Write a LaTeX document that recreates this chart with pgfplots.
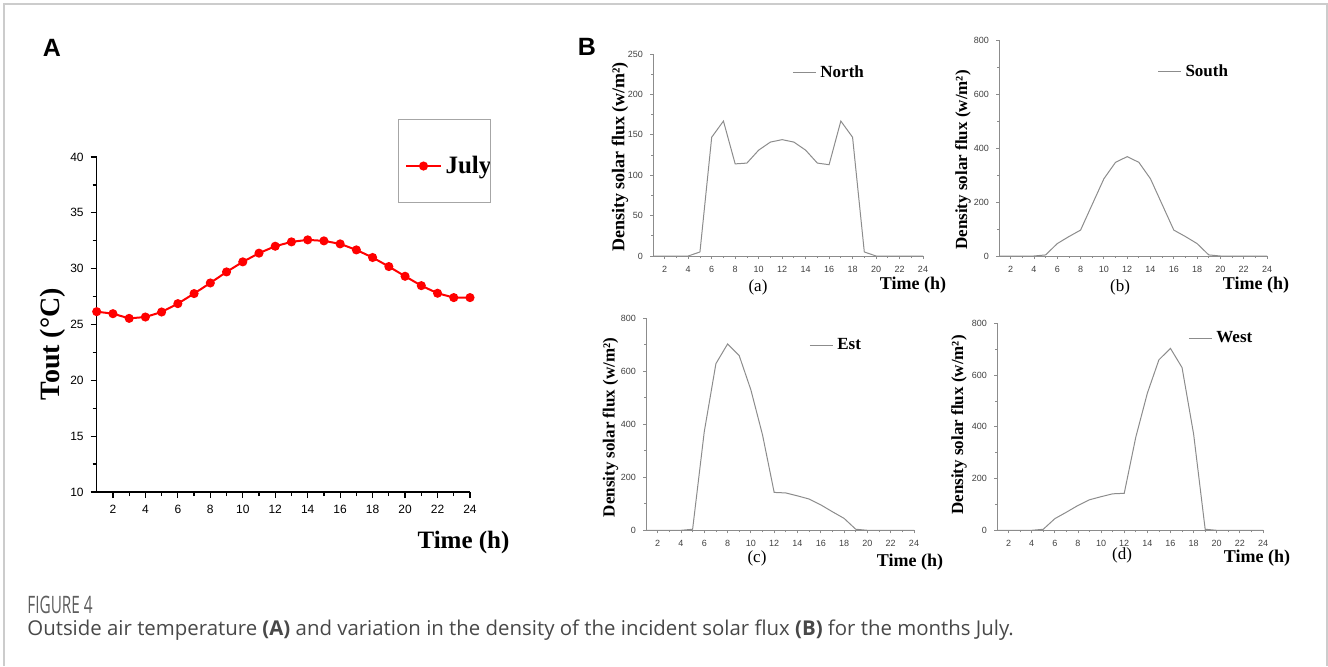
\documentclass[border=0pt]{standalone}
\usepackage{fontspec}
\setmainfont{Liberation Serif}
\newfontfamily\arial{Liberation Sans}
\newfontfamily\capfont{Open Sans}
\usepackage{graphicx}
\usepackage{pgfplots}
\usepackage{pgfplotstable}
\pgfplotsset{compat=1.18}

\definecolor{framegray}{HTML}{CCCCCC}
\definecolor{fluxgray}{HTML}{8C8C8C}
\definecolor{capgray}{HTML}{5E5E5E}
\definecolor{captext}{HTML}{484848}

% outside temperature, July
\pgfplotstableread{
h T
1 26.15
2 25.97
3 25.55
4 25.67
5 26.12
6 26.87
7 27.77
8 28.72
9 29.71
10 30.61
11 31.39
12 32.01
13 32.40
14 32.58
15 32.49
16 32.22
17 31.68
18 31.00
19 30.19
20 29.32
21 28.48
22 27.80
23 27.41
24 27.41
}\julytable

% solar flux density (w/m2) per facade
\pgfplotstableread{
h north south est west
1 0 0 0 0
2 0 0 0 0
3 0 0 0 0
4 0 0 0 0
5 5 4 4 4
6 147 46 372 45
7 167 72 629 70
8 114 96 703 96
9 115 191 659 118
10 131 286 530 130
11 141 347 360 141
12 144 368 143 143
13 141 347 141 360
14 131 286 130 530
15 115 191 118 659
16 113 96 96 703
17 167 72 70 629
18 147 46 45 372
19 5 4 4 4
20 0 0 0 0
21 0 0 0 0
22 0 0 0 0
23 0 0 0 0
24 0 0 0 0
}\fluxtable

\pgfplotsset{
  fluxaxis/.style={
    scale only axis, anchor=south west,
    axis lines*=left,
    axis line style={fluxgray, line width=0.5pt},
    xmin=1, xmax=24, ymin=0,
    xtick={2,4,...,24},
    minor x tick num=1, minor y tick num=1,
    tick align=outside,
    major tick length=1.5pt, minor tick length=1pt,
    every tick/.style={fluxgray, line width=0.4pt},
    tick label style={font=\arial\fontsize{4.5}{5}\selectfont, text=black!75},
    /pgf/number format/assume math mode=true,
    legend style={draw=none, fill=none, anchor=west, inner sep=0pt,
      font=\bfseries\fontsize{8.5}{9}\selectfont},
    legend image code/.code={\draw[##1] (0pt,0pt) -- (11.5pt,0pt);},
  },
  fluxline/.style={fluxgray, line width=0.5pt, mark=none},
}

\begin{document}
\begin{tikzpicture}
\path[use as bounding box] (0,0) rectangle (664pt,333pt);
\draw[framegray, line width=0.75pt] (2pt,0pt) -- (2pt,331pt) -- (663.5pt,331pt) -- (663.5pt,0pt);

% panel letters
\node[font=\arial\bfseries\fontsize{12.5}{14}\selectfont] at (26pt,309pt) {A};
\node[font=\arial\bfseries\fontsize{12.5}{14}\selectfont] at (293.5pt,309.5pt) {B};

% ---- A: outside temperature
\begin{axis}[
  at={(48.35pt,87pt)}, anchor=south west, scale only axis,
  width=186.65pt, height=167.5pt,
  axis lines*=left,
  axis line style={black, line width=0.75pt},
  xmin=1, xmax=24, ymin=10, ymax=40,
  xtick={2,4,...,24}, ytick={10,15,...,40},
  minor x tick num=1, minor y tick num=1,
  tick align=outside,
  major tick length=3pt, minor tick length=2pt,
  every tick/.style={black, line width=0.6pt},
  tick label style={font=\arial\fontsize{6}{7}\selectfont},
  /pgf/number format/assume math mode=true,
  legend style={at={(0.826,0.973)}, anchor=west, draw=none, fill=none,
    inner sep=0pt, font=\bfseries\fontsize{12.5}{14}\selectfont},
]
\addplot[red, line width=1pt, mark=*, mark size=1.75pt] table[x=h, y=T] {\julytable};
\legend{July}
\end{axis}
\draw[gray!70, line width=0.5pt] (199pt,232pt) rectangle (245pt,273.5pt);
\node[rotate=90, font=\bfseries\fontsize{14}{16}\selectfont] at (26.5pt,161pt) {Tout (°C)};
\node[font=\bfseries\fontsize{12.5}{14}\selectfont] at (231.75pt,62pt) {Time (h)};

% ---- B (a) North
\begin{axis}[fluxaxis, at={(326.5pt,205pt)}, width=135pt, height=101pt,
  ymax=250, ytick={0,50,...,250},
  legend style={at={(0.515,0.906)}}]
\addplot[fluxline] table[x=h, y=north] {\fluxtable};
\legend{North}
\end{axis}
\node[rotate=90, font=\bfseries\fontsize{9}{10}\selectfont] at (310pt,254.5pt) {Density solar flux (w/m²)};
\node[font=\fontsize{8.5}{10}\selectfont] at (379pt,189.5pt) {(a)};
\node[font=\bfseries\fontsize{9}{10}\selectfont] at (456.5pt,190.5pt) {Time (h)};

% ---- B (b) South
\begin{axis}[fluxaxis, at={(499.5pt,205pt)}, width=134pt, height=108pt,
  ymax=800, ytick={0,200,...,800},
  legend style={at={(0.590,0.852)}}]
\addplot[fluxline] table[x=h, y=south] {\fluxtable};
\legend{South}
\end{axis}
\node[rotate=90, font=\bfseries\fontsize{8.5}{10}\selectfont] at (481.5pt,253pt) {Density solar flux (w/m²)};
\node[font=\fontsize{8.5}{10}\selectfont] at (560pt,189.5pt) {(b)};
\node[font=\bfseries\fontsize{9}{10}\selectfont] at (628pt,190.5pt) {Time (h)};

% ---- B (c) Est
\begin{axis}[fluxaxis, at={(323pt,67.85pt)}, width=134pt, height=106pt,
  ymax=800, ytick={0,200,...,800},
  legend style={at={(0.608,0.874)}}]
\addplot[fluxline] table[x=h, y=est] {\fluxtable};
\legend{Est}
\end{axis}
\node[rotate=90, font=\bfseries\fontsize{8.5}{10}\selectfont] at (305.25pt,119.25pt) {Density solar flux (w/m²)};
\node[font=\fontsize{8.5}{10}\selectfont] at (378.5pt,54pt) {(c)};
\node[font=\bfseries\fontsize{9}{10}\selectfont] at (455pt,51.75pt) {Time (h)};

% ---- B (d) West
\begin{axis}[fluxaxis, at={(498.5pt,67.85pt)}, width=133pt, height=103.5pt,
  ymax=800, ytick={0,200,...,800},
  legend style={at={(0.718,0.929)}}]
\addplot[fluxline] table[x=h, y=west] {\fluxtable};
\legend{West}
\end{axis}
\node[rotate=90, font=\bfseries\fontsize{8.5}{10}\selectfont] at (479.5pt,120.5pt) {Density solar flux (w/m²)};
\node[font=\fontsize{8.5}{10}\selectfont] at (561pt,55.5pt) {(d)};
\node[font=\bfseries\fontsize{9}{10}\selectfont] at (628.5pt,53.75pt) {Time (h)};

% caption
\node[anchor=base west, inner sep=0pt, text=capgray, font=\capfont\fontsize{12}{13}\selectfont] at (13.5pt,26.5pt) {\scalebox{0.64}[1]{FIGURE 4}};
\node[anchor=base west, inner sep=0pt, text=captext, font=\capfont\fontsize{10.2}{11}\selectfont] at (13.5pt,15.5pt)
  {Outside air temperature \textbf{(A)} and variation in the density of the incident solar flux \textbf{(B)} for the months July.};
\end{tikzpicture}
\end{document}
